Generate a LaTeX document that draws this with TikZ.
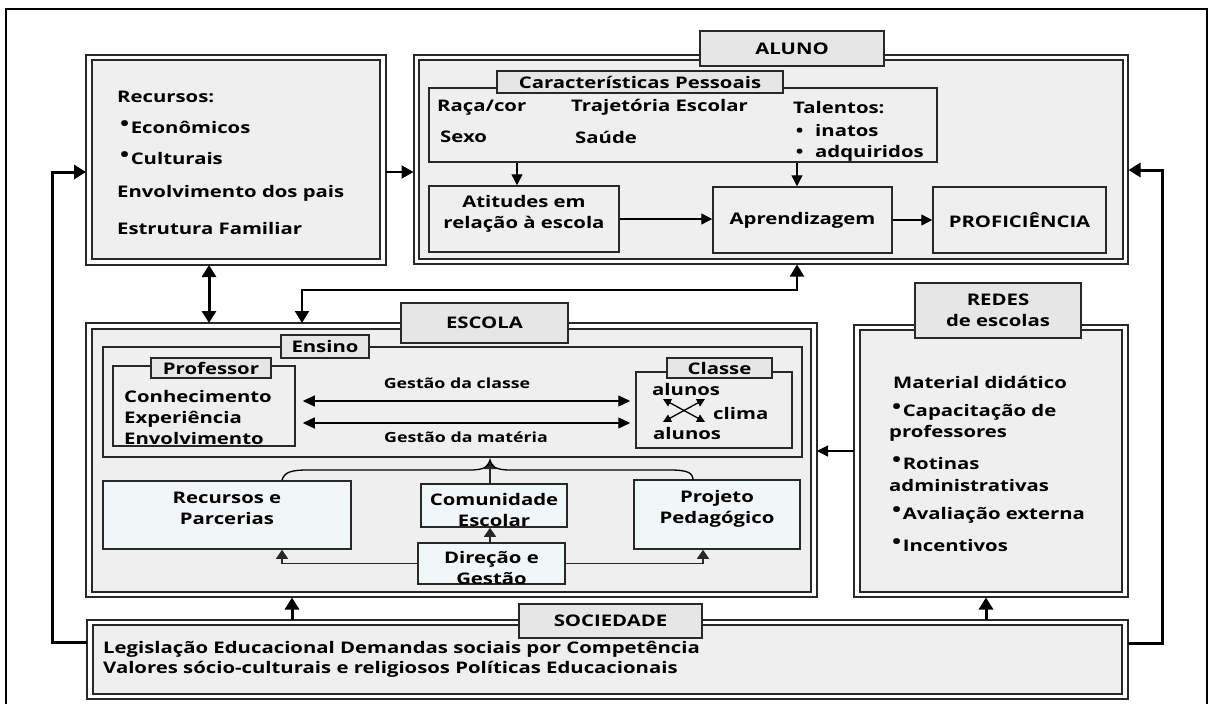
\documentclass[tikz,border=0pt]{standalone}
\usepackage{fontspec}
\setmainfont{Open Sans}[FakeStretch=1.27]
\usetikzlibrary{arrows.meta}
\definecolor{boxgray}{RGB}{239,239,239}
\definecolor{lightcyan}{RGB}{241,246,247}
\definecolor{tabgray}{RGB}{230,230,230}
\definecolor{linecol}{RGB}{40,40,40}
\newcommand\lblfont{\bfseries\fontsize{16pt}{21pt}\selectfont}
\newcommand\gfont{\bfseries\fontsize{14pt}{18pt}\selectfont}
\newcommand\rb{\raisebox{2.2pt}{\fontsize{19pt}{19pt}\selectfont •}\hspace{1.5pt}}
\begin{document}
\begin{tikzpicture}[x=1pt,y=-1pt,font=\lblfont,
  dbox/.style={draw=linecol, line width=2pt, double=white, double distance=3.5pt, fill=boxgray, inner sep=0pt, outer sep=3pt},
  sbox/.style={draw=linecol, line width=1.5pt, fill=boxgray, inner sep=0pt, align=center},
  cbox/.style={sbox, fill=lightcyan},
  tabbox/.style={sbox, fill=tabgray},
  txt/.style={inner sep=0pt, anchor=west, align=left},
  ctxt/.style={inner sep=0pt, align=center},
  thickarr/.style={draw=black, line width=3pt, -{Triangle[length=12pt,width=14pt]}},
  thickdbl/.style={draw=black, line width=3pt, {Triangle[length=12pt,width=14pt]}-{Triangle[length=12pt,width=14pt]}},
  meddbl/.style={draw=black, line width=2pt, {Triangle[length=12pt,width=14pt]}-{Triangle[length=12pt,width=14pt]}},
  medarr/.style={draw=black, line width=2.2pt, -{Triangle[length=12pt,width=13pt]}},
  thinarr/.style={draw=black, line width=1.4pt, -{Triangle[length=11pt,width=11pt]}},
  gdbl/.style={draw=black, line width=1.3pt, {Triangle[length=12pt,width=11pt]}-{Triangle[length=12pt,width=11pt]}},
  smallarr/.style={draw=linecol, line width=1.4pt, -{Triangle[length=9pt,width=12pt]}},
  xdbl/.style={draw=black, line width=1.3pt, {Triangle[length=8pt,width=8pt]}-{Triangle[length=8pt,width=8pt]}},
  bracel/.style={draw=black, line width=1.3pt}
]
\useasboundingbox (0,0) rectangle (1209,704);
\fill[white] (0,0) rectangle (1209,704);
% outer frame
\draw[line width=2pt, black] (6,704) -- (6,9) -- (1207,9) -- (1207,704);

% main boxes
\node[dbox, minimum width=294pt, minimum height=204.5pt] (fam) at (236,159.75) {};
\node[dbox, minimum width=709pt, minimum height=204pt] (alu) at (771,159.5) {};
\node[dbox, minimum width=725pt, minimum height=268.5pt] (esc) at (451.5,460.25) {};
\node[dbox, minimum width=268pt, minimum height=267pt] (red) at (991,461) {};
\node[dbox, minimum width=1035pt, minimum height=74pt] (soc) at (607.5,659.5) {};

% tabs of main boxes
\node[tabbox, minimum width=184pt, minimum height=35pt] (alutab) at (792,48.5) {ALUNO};
\node[tabbox, minimum width=167pt, minimum height=40pt] (esctab) at (484.5,323) {ESCOLA};
\node[tabbox, minimum width=166pt, minimum height=55pt] (redtab) at (998,310.5) {REDES\\de escolas};
\node[tabbox, minimum width=183pt, minimum height=34pt] (soctab) at (610.5,621) {SOCIEDADE};

% family box text
\node[txt] (r1) at (117,97) {Recursos:};
\node[txt] (r2) at (120,127) {\rb Econômicos};
\node[txt] (r3) at (120,158) {\rb Culturais};
\node[txt] (r4) at (117,193) {Envolvimento dos pais};
\node[txt] (r5) at (117,228) {Estrutura Familiar};

% ALUNO interior
\node[sbox, minimum width=508pt, minimum height=74pt] (cp) at (683,125) {};
\node[tabbox, minimum width=286pt, minimum height=22pt] (cptab) at (640,82) {Características Pessoais};
\node[txt] (c1) at (437,108) {Raça/cor};
\node[txt] (c2) at (440,137) {Sexo};
\node[txt] (c3) at (571,107) {Trajetória Escolar};
\node[txt] (c4) at (575,137) {Saúde};
\node[txt] (c5) at (793,108) {Talentos:};
\node[txt] (c6) at (793,130) {\makebox[22pt][l]{\,•}inatos};
\node[txt] (c7) at (793,153) {\makebox[22pt][l]{\,•}adquiridos};
\node[sbox, minimum width=190pt, minimum height=66pt] (att) at (524,219) {};
\node[ctxt] (atttxt) at (524,213.5) {Atitudes em\\relação à escola};
\node[sbox, minimum width=179pt, minimum height=66pt] (apr) at (802.5,220) {Aprendizagem};
\node[sbox, minimum width=173pt, minimum height=66pt] (pro) at (1019.5,220) {PROFICIÊNCIA};

% ESCOLA interior
\node[sbox, minimum width=699pt, minimum height=110pt] (ens) at (452.5,402) {};
\node[tabbox, minimum width=88pt, minimum height=23pt] (enstab) at (325,346.5) {Ensino};
\node[sbox, minimum width=182pt, minimum height=80pt] (prof) at (204,406) {};
\node[tabbox, minimum width=120pt, minimum height=20pt] (proftab) at (211,368) {Professor};
\node[txt] (proftxt) at (124,417) {Conhecimento\\Experiência\\Envolvimento};
\node[sbox, minimum width=156pt, minimum height=76pt] (cla) at (714,410) {};
\node[tabbox, minimum width=105pt, minimum height=20pt] (clatab) at (719.5,368) {Classe};
\node[txt] (al1) at (652,389) {alunos};
\node[txt] (cli) at (713,413) {clima};
\node[txt] (al2) at (653,433) {alunos};
\node[ctxt, font=\gfont] (g1) at (457,383) {Gestão da classe};
\node[ctxt, font=\gfont] (g2) at (466,437) {Gestão da matéria};

\node[cbox, minimum width=248pt, minimum height=68pt] (rec) at (227,515) {};
\node[ctxt] (rectxt) at (227,508.5) {Recursos e\\Parcerias};
\node[cbox, minimum width=146pt, minimum height=43pt] (com) at (494,505.5) {};
\node[ctxt] (comtxt) at (494,509.5) {Comunidade\\Escolar};
\node[cbox, minimum width=147pt, minimum height=41pt] (dir) at (491.5,563.5) {};
\node[ctxt] (dirtxt) at (491.5,567.5) {Direção e\\Gestão};
\node[cbox, minimum width=166pt, minimum height=69pt] (proj) at (717,514.5) {};
\node[ctxt] (projtxt) at (717,509) {Projeto\\Pedagógico};

% REDES text
\node[txt] (m1) at (893,382) {Material didático};
\node[txt] (m2) at (892,412) {\rb Capacitação de};
\node[txt] (m3) at (889,433) {professores};
\node[txt] (m4) at (892,463) {\rb Rotinas};
\node[txt] (m5) at (889,485) {administrativas};
\node[txt] (m6) at (892,515) {\rb Avaliação externa};
\node[txt] (m7) at (892,545) {\rb Incentivos};

% SOCIEDADE text
\node[txt] (s1) at (103,649) {Legislação Educacional Demandas sociais por Competência};
\node[txt] (s2) at (103,669) {Valores sócio-culturais e religiosos Políticas Educacionais};

% helper coordinates
\coordinate (lfb) at (52,172);
\coordinate (rfb) at (1162,170);
\coordinate (fe) at (209,0);
\coordinate (ae1) at (797,290);
\coordinate (ae2) at (302,290);
\coordinate (se) at (292,0);
\coordinate (sr) at (986,0);
\coordinate (ca) at (517,0);
\coordinate (cb) at (797,0);
\coordinate (rl) at (282,0);
\coordinate (rr) at (703,0);
\coordinate (mid) at (490,0);
\coordinate (peak) at (490,460);
\coordinate (xa) at (663,399);
\coordinate (xb) at (705,422);
\coordinate (xc) at (663,422);
\coordinate (xd) at (705,399);

% connectors between main boxes
\draw[medarr] (fam.east |- 0,172) -- (alu.west |- 0,172);
\draw[thickarr] (soc.west |- 0,642) -| (lfb) -- (fam.west |- lfb);
\draw[thickarr] (soc.east |- 0,643) -| (rfb) -- (alu.east |- rfb);
\draw[thickdbl] (fe |- fam.south) -- (fe |- esc.north);
\draw[meddbl] (ae1 |- alu.south) -- (ae1) -- (ae2) -- (ae2 |- esc.north);
\draw[thickarr] (se |- soc.north) -- (se |- esc.south);
\draw[thickarr] (sr |- soc.north) -- (sr |- red.south);
\draw[thinarr] (red.west |- 0,451) -- (esc.east |- 0,451);

% ALUNO connectors
\draw[thinarr] (ca |- cp.south) -- (ca |- att.north);
\draw[thinarr] (cb |- cp.south) -- (cb |- apr.north);
\draw[thinarr] (att.east) -- (apr.west |- att.east);
\draw[thinarr] (apr.east) -- (pro.west);

% ESCOLA connectors
\draw[gdbl, shorten <=7pt, shorten >=5pt] (prof.east |- 0,401) -- (cla.west |- 0,401);
\draw[gdbl, shorten <=7pt, shorten >=5pt] (prof.east |- 0,423) -- (cla.west |- 0,423);
\draw[xdbl] (xa) -- (xb);
\draw[xdbl] (xc) -- (xd);
\draw[smallarr] (dir.west) -| (rl |- rec.south);
\draw[smallarr] (dir.east) -| (rr |- proj.south);
\draw[smallarr] (mid |- dir.north) -- (mid |- com.south);
\draw[smallarr] (peak |- com.north) -- (peak);
\draw[bracel] (rl |- rec.north) .. controls (284,472) and (292,470) .. (307,470) -- (470,470)
  .. controls (485,470) and (489,466) .. (peak)
  .. controls (491,466) and (495,470) .. (510,470) -- (670,470)
  .. controls (688,470) and (693,473) .. (693,480);
\end{tikzpicture}
\end{document}
